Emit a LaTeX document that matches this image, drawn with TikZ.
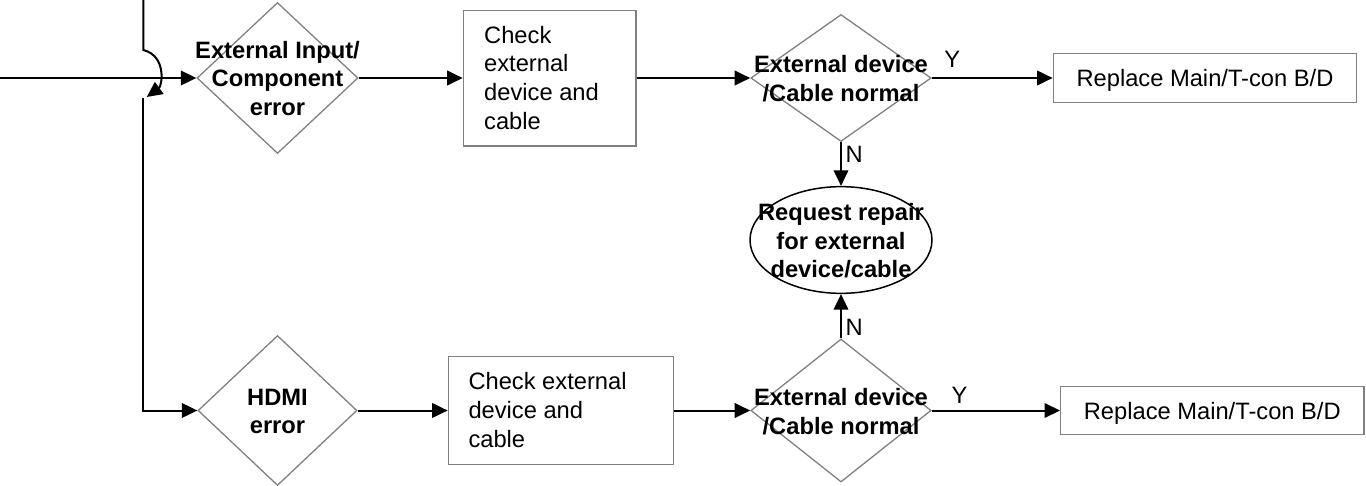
\documentclass[tikz,border=0pt]{standalone}
\usepackage{fontspec}
\setmainfont{Liberation Sans}
\usetikzlibrary{shapes.geometric,arrows.meta}
\begin{document}
\begin{tikzpicture}[x=1pt,y=-1pt,
  conn/.style={line width=2pt, draw=black},
  tip/.style={-{Triangle[length=15.5pt,width=14.5pt]}},
  dia/.style={diamond, draw=gray, line width=1.3pt, inner sep=0pt},
  box/.style={rectangle, draw=gray, line width=1.3pt, inner sep=0pt},
  txt/.style={font=\fontsize{23.7}{28.6}\selectfont, align=center, inner sep=0pt},
  btxt/.style={font=\fontsize{23.7}{28.6}\selectfont\bfseries, align=center, inner sep=0pt},
  lbl/.style={font=\fontsize{23.7}{28.6}\selectfont, inner sep=0pt, text height=17pt, text depth=0pt},
]
\useasboundingbox (0,0) rectangle (1366,485);

% shapes
\node[dia, minimum width=161pt, minimum height=151pt] (d1) at (277.5,78) {};
\node[btxt] (d1t) at (277.5,78.4) {External Input/\\Component\\error};

\node[box, minimum width=172.7pt, minimum height=135.7pt] (b1) at (549.7,78) {};
\node[txt, align=left, anchor=west] (b1t) at (484,77.7) {Check\\external\\device and\\cable};

\node[dia, minimum width=180.3pt, minimum height=127pt] (d2) at (841,78) {};
\node[btxt] (d2t) at (841,78.6) {External device\\/Cable normal};

\node[box, minimum width=303.4pt, minimum height=49pt, lbl] (r1) at (1205,78) {Replace Main/T-con B/D};

\node[ellipse, draw=black, line width=1.5pt, minimum width=182pt, minimum height=106.7pt, inner sep=0pt] (ell) at (841,240) {};
\node[btxt] (ellt) at (841,240.8) {Request repair\\for external\\device/cable};

\node[dia, minimum width=159pt, minimum height=150pt] (d4) at (277.5,410.5) {};
\node[btxt] (d4t) at (277.5,411.6) {HDMI\\error};

\node[box, minimum width=225pt, minimum height=108.3pt] (b2) at (560.8,410.5) {};
\node[txt, align=left, anchor=west] (b2t) at (468.3,410.1) {Check external\\device and\\cable};

\node[dia, minimum width=180.3pt, minimum height=143pt] (d3) at (841,410.5) {};
\node[btxt] (d3t) at (841,411.9) {External device\\/Cable normal};

\node[box, minimum width=303.3pt, minimum height=48.3pt, lbl] (r2) at (1212.3,410.5) {Replace Main/T-con B/D};

% labels
\node[lbl] (y1) at (952.2,58.7) {Y};
\node[lbl] (n1) at (854.2,154.2) {N};
\node[lbl] (n2) at (854.2,326.5) {N};
\node[lbl] (y2) at (959.5,394.7) {Y};

% free ends
\coordinate (in1) at (0,78);
\coordinate (in2) at (143.3,-1);
\coordinate (hopA) at (143.3,50);
\coordinate (hopB) at (146.7,97);
\coordinate (hopC) at (143.3,98.3);

% connectors
\draw[conn,tip] (in1) -- (d1.west);
\draw[conn,tip] (d1.east) -- (b1.west);
\draw[conn,tip] (b1.east) -- (d2.west);
\draw[conn,tip] (d2.east) -- (r1.west);
\draw[conn,tip] (d2.south) -- (ell.north);
\draw[conn,tip] (d3.north) -- (ell.south);
\draw[conn,tip] (d3.east) -- (r2.west);
\draw[conn,tip] (b2.east) -- (d3.west);
\draw[conn,tip] (d4.east) -- (b2.west);
\draw[conn,tip] (in2) -- (hopA) .. controls (167,56) and (162,86) .. (hopB);
\draw[conn,tip] (hopC) |- (d4.west);
\end{tikzpicture}
\end{document}
